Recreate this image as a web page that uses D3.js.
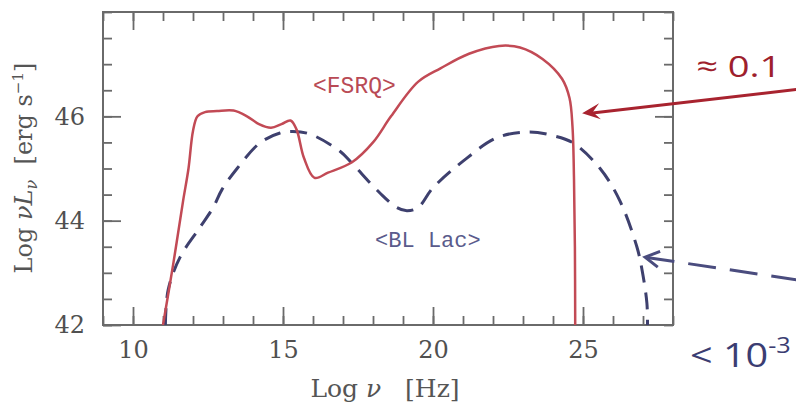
<!DOCTYPE html>
<html>
<head>
<meta charset="utf-8">
<script src="https://cdn.jsdelivr.net/npm/d3@7"></script>
<style>
  html, body { margin: 0; padding: 0; background: #ffffff; }
  svg { display: block; }
</style>
</head>
<body>
<svg id="chart" width="796" height="402"></svg>
<script>
// ---- data (log nu [Hz], log nuL_nu [erg/s]) ----
const fsrqX = [11.0, 11.35, 11.67, 11.85, 12.0, 12.15, 12.4, 12.8, 13.35, 13.8, 14.2, 14.6, 14.95, 15.25, 15.45, 15.7, 16.05, 16.5, 17.3, 18.0, 18.6, 19.5, 20.25, 21.2, 22.2, 22.9, 23.65, 24.3, 24.55, 24.65, 24.7, 24.73, 24.74];
const fsrqY = [42.0, 43.2, 44.38, 45.0, 45.72, 46.0, 46.08, 46.1, 46.11, 46.0, 45.85, 45.78, 45.85, 45.92, 45.75, 45.2, 44.82, 44.92, 45.12, 45.5, 46.0, 46.66, 46.92, 47.2, 47.35, 47.32, 47.1, 46.72, 46.35, 45.8, 44.8, 43.5, 42.0];
const blLacX = [11.08, 11.17, 11.57, 12.23, 12.67, 12.97, 13.47, 14.23, 14.9, 15.33, 15.9, 16.9, 17.3, 18.23, 18.8, 19.13, 19.5, 20.0, 21.13, 22.13, 23.2, 24.0, 24.67, 25.57, 26.23, 26.8, 26.97, 27.13, 27.15];
const blLacY = [42.0, 42.67, 43.3, 43.87, 44.25, 44.6, 45.0, 45.49, 45.68, 45.71, 45.66, 45.33, 45.1, 44.53, 44.25, 44.19, 44.25, 44.63, 45.2, 45.59, 45.7, 45.63, 45.49, 45.0, 44.38, 43.49, 43.05, 42.42, 42.0];
const xTickLabels = [10, 15, 20, 25];
const yTickLabels = [42, 44, 46];
const seriesNames = ["<FSRQ>", "<BL Lac>"];
const noteLabels = ["\u2248 0.1", "< 10"];

// ---- layout ----
const W = 796, H = 402;
const m = { left: 103, top: 12, right: 123, bottom: 77 };
const iw = W - m.left - m.right, ih = H - m.top - m.bottom;

const svg = d3.select("#chart");
const x = d3.scaleLinear().domain([9, 28]).range([m.left, m.left + iw]);
const y = d3.scaleLinear().domain([42, 48]).range([m.top + ih, m.top]);

const axisColor = "#6a6a6a";
const tickColor = "#505050";

// clip
svg.append("defs").append("clipPath").attr("id", "plotclip")
  .append("rect").attr("x", m.left).attr("y", m.top).attr("width", iw).attr("height", ih);

// ---- axes (ticks inward) ----
const xMinor = d3.range(9, 29, 1);
const yMinor = d3.range(42, 48.01, 0.5);

function styleAxis(g) {
  g.select(".domain").remove();
  g.selectAll(".tick line").attr("stroke", axisColor).attr("stroke-width", 1.8);
}

// bottom
svg.append("g").attr("transform", `translate(0,${m.top + ih})`)
  .call(d3.axisBottom(x).tickValues(xMinor).tickSize(-9).tickFormat(""))
  .call(styleAxis);
svg.append("g").attr("transform", `translate(0,${m.top + ih})`)
  .call(d3.axisBottom(x).tickValues(xTickLabels).tickSize(-18).tickPadding(16).tickFormat(d3.format("d")))
  .call(styleAxis)
  .call(g => g.selectAll("text").attr("fill", tickColor)
    .attr("font-family", "'DejaVu Serif', serif").attr("font-size", 24));
// top
svg.append("g").attr("transform", `translate(0,${m.top})`)
  .call(d3.axisTop(x).tickValues(xMinor).tickSize(-9).tickFormat(""))
  .call(styleAxis);
svg.append("g").attr("transform", `translate(0,${m.top})`)
  .call(d3.axisTop(x).tickValues(xTickLabels).tickSize(-18).tickFormat(""))
  .call(styleAxis);
// left
svg.append("g").attr("transform", `translate(${m.left},0)`)
  .call(d3.axisLeft(y).tickValues(yMinor).tickSize(-9).tickFormat(""))
  .call(styleAxis);
svg.append("g").attr("transform", `translate(${m.left},0)`)
  .call(d3.axisLeft(y).tickValues(yTickLabels).tickSize(-18).tickPadding(18).tickFormat(d3.format("d")))
  .call(styleAxis)
  .call(g => g.selectAll("text").attr("fill", tickColor)
    .attr("font-family", "'DejaVu Serif', serif").attr("font-size", 24));
// right
svg.append("g").attr("transform", `translate(${m.left + iw},0)`)
  .call(d3.axisRight(y).tickValues(yMinor).tickSize(-9).tickFormat(""))
  .call(styleAxis);
svg.append("g").attr("transform", `translate(${m.left + iw},0)`)
  .call(d3.axisRight(y).tickValues([46]).tickSize(-18).tickFormat(""))
  .call(styleAxis);

// frame
svg.append("rect").attr("x", m.left).attr("y", m.top).attr("width", iw).attr("height", ih)
  .attr("fill", "none").attr("stroke", axisColor).attr("stroke-width", 2);

// ---- curves ----
const line = d3.line().x(d => x(d[0])).y(d => y(d[1])).curve(d3.curveCatmullRom.alpha(0.5));
const fsrq = fsrqX.map((v, i) => [v, fsrqY[i]]);
const bllac = blLacX.map((v, i) => [v, blLacY[i]]);

const plot = svg.append("g").attr("clip-path", "url(#plotclip)");
plot.append("path").datum(bllac).attr("d", line)
  .attr("fill", "none").attr("stroke", "#3e406e").attr("stroke-width", 3)
  .attr("stroke-dasharray", "17 10");
plot.append("path").datum(fsrq).attr("d", line)
  .attr("fill", "none").attr("stroke", "#c24a55").attr("stroke-width", 2.5);

// series labels
svg.append("text").attr("x", x(16.0)).attr("y", y(46.44)).text(seriesNames[0])
  .attr("font-family", "'Liberation Mono', 'Courier New', monospace").attr("font-size", 23)
  .attr("fill", "#b94a55");
svg.append("text").attr("x", x(18.07)).attr("y", y(43.49)).text(seriesNames[1])
  .attr("font-family", "'Liberation Mono', 'Courier New', monospace").attr("font-size", 22)
  .attr("fill", "#5a5b8c");

// ---- axis titles ----
const xt = svg.append("text").attr("x", 385).attr("y", 397).attr("text-anchor", "middle")
  .attr("font-family", "'DejaVu Serif', serif").attr("font-size", 25).attr("fill", "#555")
  .attr("xml:space", "preserve");
xt.append("tspan").text("Log ");
xt.append("tspan").attr("font-style", "italic").text("\u03bd");
xt.append("tspan").text("   [Hz]");

const yt = svg.append("text").attr("transform", "translate(32,168) rotate(-90)")
  .attr("text-anchor", "middle").attr("font-family", "'DejaVu Serif', serif")
  .attr("font-size", 24).attr("fill", "#555").attr("xml:space", "preserve");
yt.append("tspan").text("Log ");
yt.append("tspan").attr("font-style", "italic").text("\u03bdL");
yt.append("tspan").attr("font-style", "italic").attr("font-size", 16).attr("dy", 5).text("\u03bd");
yt.append("tspan").attr("dy", -5).text("  [erg s");
yt.append("tspan").attr("font-size", 15).attr("dy", -9).text("\u22121");
yt.append("tspan").attr("dy", 9).text("]");

// ---- annotations ----
const redArrow = { tail: [32.2, 46.52], tip: [24.97, 46.06] };
const blueArrow = { tail: [32.2, 42.86], tip: [27.07, 43.3] };

function arrowLine(a, color, dash) {
  return svg.append("line")
    .attr("x1", x(a.tail[0])).attr("y1", y(a.tail[1]))
    .attr("x2", x(a.tip[0])).attr("y2", y(a.tip[1]))
    .attr("stroke", color).attr("stroke-width", 3).attr("stroke-dasharray", dash || null);
}
// red arrow
arrowLine({ tail: redArrow.tail, tip: [redArrow.tip[0] + 0.2, redArrow.tip[1] - 0.005] }, "#a8232f");
{
  const tx = x(redArrow.tip[0]), ty = y(redArrow.tip[1]);
  const ang = Math.atan2(y(redArrow.tail[1]) - ty, x(redArrow.tail[0]) - tx);
  const L = 18, Wd = 8;
  const ux = Math.cos(ang), uy = Math.sin(ang), px = -uy, py = ux;
  const p = [[tx, ty], [tx + ux * L + px * Wd, ty + uy * L + py * Wd],
             [tx + ux * L * 0.6, ty + uy * L * 0.6], [tx + ux * L - px * Wd, ty + uy * L - py * Wd]];
  svg.append("path").attr("d", "M" + p.map(q => q.join(",")).join("L") + "Z").attr("fill", "#a8232f");
}
// blue arrow
arrowLine(blueArrow, "#4a4c7e", "28 14");
{
  const tx = x(blueArrow.tip[0]), ty = y(blueArrow.tip[1]);
  const ang = Math.atan2(y(blueArrow.tail[1]) - ty, x(blueArrow.tail[0]) - tx);
  const L = 14, Wd = 8;
  const ux = Math.cos(ang), uy = Math.sin(ang), px = -uy, py = ux;
  svg.append("path")
    .attr("d", `M${tx + ux * L + px * Wd},${ty + uy * L + py * Wd}L${tx},${ty}L${tx + ux * L - px * Wd},${ty + uy * L - py * Wd}`)
    .attr("fill", "none").attr("stroke", "#4a4c7e").attr("stroke-width", 3);
}

svg.append("text").attr("transform", "translate(696,77) scale(1.27,1)").text(noteLabels[0])
  .attr("font-family", "'Open Sans', 'Noto Sans', sans-serif").attr("font-size", 30)
  .attr("fill", "#9e1f2d");
const nt = svg.append("text").attr("transform", "translate(690,367) scale(1.2,1)")
  .attr("font-family", "'Open Sans', 'Noto Sans', sans-serif").attr("font-size", 33)
  .attr("fill", "#3b3d72");
nt.append("tspan").text(noteLabels[1]);
nt.append("tspan").attr("font-size", 21).attr("dy", -14).text("-3");
</script>
</body>
</html>
